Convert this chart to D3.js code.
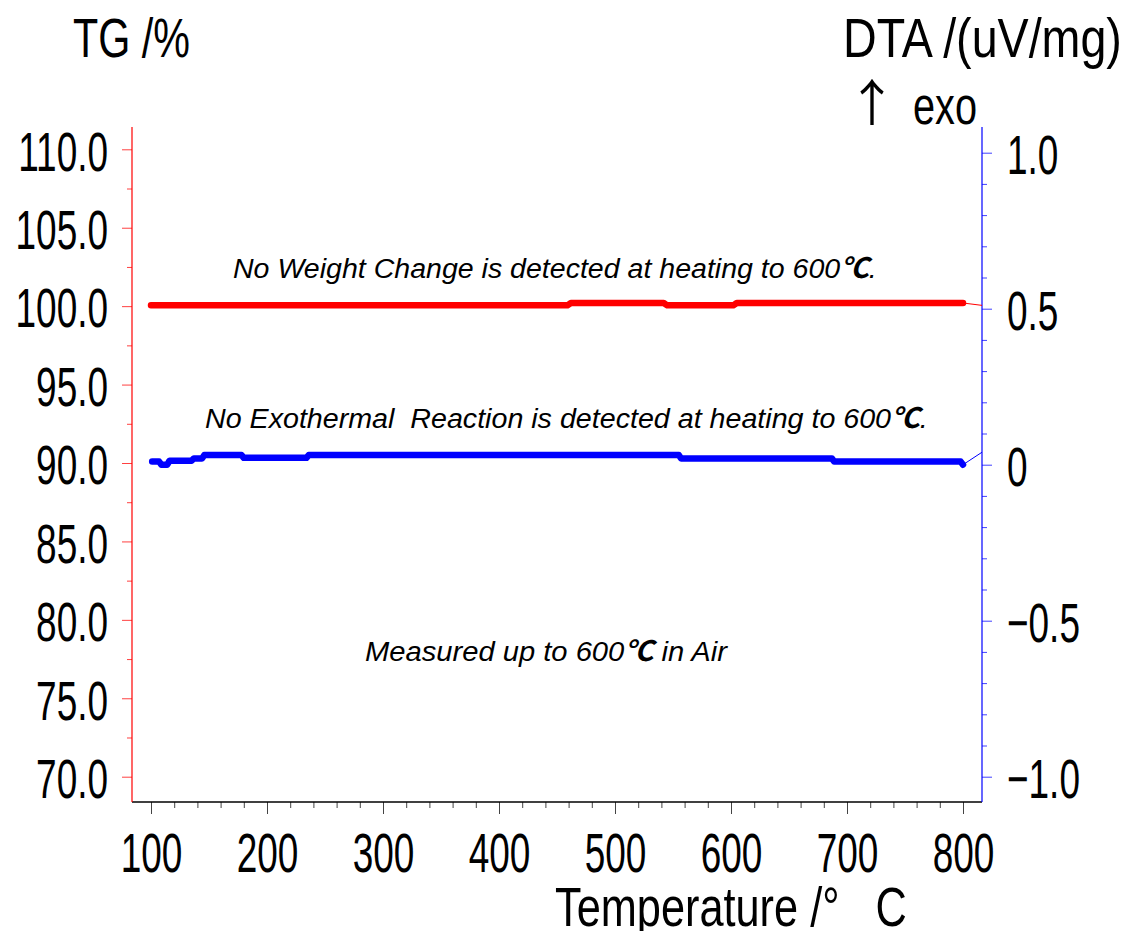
<!DOCTYPE html>
<html>
<head>
<meta charset="utf-8">
<script src="https://cdn.jsdelivr.net/npm/d3@7"></script>
<style>
  html, body { margin: 0; padding: 0; background: #fff; }
  svg { display: block; font-family: "Liberation Sans", Arial, sans-serif; }
</style>
</head>
<body>
<svg id="chart" width="1127" height="931"></svg>
<script>
// Temperature axis ticks (°C)
const tempMajorTicks = [100, 200, 300, 400, 500, 600, 700, 800];
const tempMinorTicks = [120, 140, 160, 180, 220, 240, 260, 280, 320, 340, 360, 380,
                        420, 440, 460, 480, 520, 540, 560, 580, 620, 640, 660, 680,
                        720, 740, 760, 780];
// TG axis ticks (%)
const tgMajorTicks = [70, 75, 80, 85, 90, 95, 100, 105, 110];
const tgMinorTicks = [72.5, 77.5, 82.5, 87.5, 92.5, 97.5, 102.5, 107.5];
// DTA axis ticks (uV/mg)
const dtaMajorTicks = [-1.0, -0.5, 0, 0.5, 1.0];
const dtaTickLabels = ["\u22121.0", "\u22120.5", "0", "0.5", "1.0"];
const dtaMinorTicks = [-0.9, -0.8, -0.7, -0.6, -0.4, -0.3, -0.2, -0.1,
                       0.1, 0.2, 0.3, 0.4, 0.6, 0.7, 0.8, 0.9];

// TG curve: temperature (°C) and weight (%)
const tgTemp  = [100, 459, 462, 542, 545, 602, 605, 800];
const tgValue = [100.05, 100.05, 100.2, 100.2, 100.05, 100.05, 100.2, 100.2];
const tgLeaderEnd = 100.05;

// DTA curve: temperature (°C) and signal (uV/mg)
const dtaTemp  = [101, 107, 109, 114, 116, 135, 137, 144, 146, 178, 180, 234, 236,
                  555, 557, 687, 689, 798, 800];
const dtaValue = [0.01, 0.01, 0.0, 0.0, 0.013, 0.013, 0.02, 0.02, 0.031, 0.031,
                  0.022, 0.022, 0.031, 0.031, 0.02, 0.02, 0.01, 0.01, 0.0];
const dtaLeaderEnd = 0.04;

// Annotations
const noteWeight = "No Weight Change is detected at heating to 600";
const noteExo = "No Exothermal  Reaction is detected at heating to 600";
const noteAir = ["Measured up to 600", " in Air"];

const svg = d3.select("#chart");

// Plot frame
const plotLeft = 132, plotRight = 982, plotTop = 127, plotBottom = 802;

const x = d3.scaleLinear().domain([100, 800]).range([151, 963]);
const yTG = d3.scaleLinear().domain([110, 70]).range([149.3, 776.7]);
const yDTA = d3.scaleLinear().domain([1, -1]).range([152.7, 776.7]);

const labelSX = 0.66;   // horizontal compression of tick label glyphs
const tickFont = 56;

// ----- bottom axis -----
const xAxisG = svg.append("g").attr("transform", `translate(0,${plotBottom})`);
xAxisG.append("g")
  .call(d3.axisBottom(x).tickValues(tempMinorTicks).tickSize(6).tickFormat(""))
  .call(g => g.select(".domain").remove())
  .call(g => g.selectAll("text").remove())
  .call(g => g.selectAll("line").attr("stroke", "#444"));
xAxisG.append("g")
  .call(d3.axisBottom(x).tickValues(tempMajorTicks).tickSize(12).tickPadding(0).tickFormat(d3.format("d")))
  .call(g => g.select(".domain").remove())
  .call(g => g.selectAll("line").attr("stroke", "#444"))
  .call(g => g.selectAll("text")
    .attr("fill", "#000")
    .style("font-size", tickFont + "px")
    .attr("y", 70).attr("dy", 0)
    .attr("transform", `scale(${labelSX},1)`));
svg.append("line")
  .attr("x1", plotLeft).attr("x2", plotRight)
  .attr("y1", plotBottom).attr("y2", plotBottom)
  .attr("stroke", "#000").attr("stroke-width", 1.5);

// ----- left (TG) axis -----
const tgAxisG = svg.append("g").attr("transform", `translate(${plotLeft},0)`);
tgAxisG.append("g")
  .call(d3.axisLeft(yTG).tickValues(tgMinorTicks).tickSize(5).tickFormat(""))
  .call(g => g.select(".domain").remove())
  .call(g => g.selectAll("text").remove())
  .call(g => g.selectAll("line").attr("stroke", "#ff4040"));
tgAxisG.append("g")
  .call(d3.axisLeft(yTG).tickValues(tgMajorTicks).tickSize(10).tickFormat(d3.format(".1f")))
  .call(g => g.select(".domain").remove())
  .call(g => g.selectAll("line").attr("stroke", "#ff4040"))
  .call(g => g.selectAll("text")
    .attr("fill", "#000")
    .style("font-size", tickFont + "px")
    .attr("x", -24 / labelSX).attr("dy", "0.37em")
    .attr("transform", `scale(${labelSX},1)`));
svg.append("line")
  .attr("x1", plotLeft).attr("x2", plotLeft)
  .attr("y1", plotTop).attr("y2", plotBottom)
  .attr("stroke", "#ff0000").attr("stroke-width", 1.2);

// ----- right (DTA) axis -----
const dtaAxisG = svg.append("g").attr("transform", `translate(${plotRight},0)`);
dtaAxisG.append("g")
  .call(d3.axisRight(yDTA).tickValues(dtaMinorTicks).tickSize(5).tickFormat(""))
  .call(g => g.select(".domain").remove())
  .call(g => g.selectAll("text").remove())
  .call(g => g.selectAll("line").attr("stroke", "#4040ff"));
dtaAxisG.append("g")
  .call(d3.axisRight(yDTA).tickValues(dtaMajorTicks).tickSize(10)
    .tickFormat((d, i) => dtaTickLabels[i]))
  .call(g => g.select(".domain").remove())
  .call(g => g.selectAll("line").attr("stroke", "#4040ff"))
  .call(g => g.selectAll("text")
    .attr("fill", "#000")
    .style("font-size", tickFont + "px")
    .attr("x", 25 / labelSX).attr("dy", "0.37em")
    .attr("transform", `scale(${labelSX},1)`));
svg.append("line")
  .attr("x1", plotRight).attr("x2", plotRight)
  .attr("y1", plotTop).attr("y2", plotBottom)
  .attr("stroke", "#0000ff").attr("stroke-width", 1.2);

// ----- curves -----
const tgData = tgTemp.map((t, i) => [t, tgValue[i]]);
const dtaData = dtaTemp.map((t, i) => [t, dtaValue[i]]);

const tgLine = d3.line().x(d => x(d[0])).y(d => yTG(d[1]));
const dtaLine = d3.line().x(d => x(d[0])).y(d => yDTA(d[1]));

// thin leaders from curve ends to the right axis
const tgLast = tgData[tgData.length - 1];
svg.append("line")
  .attr("x1", x(tgLast[0])).attr("y1", yTG(tgLast[1]))
  .attr("x2", plotRight).attr("y2", yTG(tgLeaderEnd))
  .attr("stroke", "#ff0000").attr("stroke-width", 1);
const dtaLast = dtaData[dtaData.length - 1];
svg.append("line")
  .attr("x1", x(dtaLast[0])).attr("y1", yDTA(dtaLast[1]))
  .attr("x2", plotRight).attr("y2", yDTA(dtaLeaderEnd))
  .attr("stroke", "#0000ff").attr("stroke-width", 1);

svg.append("path").datum(tgData)
  .attr("d", tgLine)
  .attr("fill", "none").attr("stroke", "#ff0000")
  .attr("stroke-width", 6.5).attr("stroke-linejoin", "round").attr("stroke-linecap", "round");
svg.append("path").datum(dtaData)
  .attr("d", dtaLine)
  .attr("fill", "none").attr("stroke", "#0000ff")
  .attr("stroke-width", 6.5).attr("stroke-linejoin", "round").attr("stroke-linecap", "round");

// ----- text helpers: squeeze a text horizontally to a given width -----
function squeeze(t, x0, y0, width) {
  const w = t.node().getComputedTextLength();
  t.attr("transform", `translate(${x0},${y0}) scale(${width / w},1)`);
  return t;
}
function fitText(str, x0, y0, size, width) {
  const t = svg.append("text")
    .style("font-size", size + "px")
    .style("white-space", "pre")
    .attr("fill", "#000")
    .text(str);
  return squeeze(t, x0, y0, width);
}
fitText("TG /%", 73, 57, 55, 117);
fitText("DTA /(uV/mg)", 843, 57, 55, 279);
fitText("exo", 913, 124, 52, 64);
svg.append("text")
  .attr("x", 872).attr("y", 121).attr("text-anchor", "middle")
  .style("font-family", "'Noto Sans CJK JP', sans-serif")
  .style("font-size", "50px").attr("fill", "#000")
  .text("\u2191");
fitText("Temperature /\u00B0   C", 555, 926, 56, 352);

// ----- annotations -----
function note(parts, x0, y0, width) {
  const t = svg.append("text")
    .style("font-size", "28px").style("font-style", "italic")
    .style("white-space", "pre")
    .attr("fill", "#000");
  parts.forEach(p => {
    const ts = t.append("tspan").text(p.s);
    if (p.deg) {
      ts.style("font-family", "'Noto Sans CJK JP', sans-serif")
        .style("font-weight", "bold");
    }
  });
  return squeeze(t, x0, y0, width);
}
note([{ s: noteWeight }, { s: "\u2103", deg: true }, { s: "." }], 233, 278, 644);
note([{ s: noteExo }, { s: "\u2103", deg: true }, { s: "." }], 205, 428, 723);
note([{ s: noteAir[0] }, { s: "\u2103", deg: true }, { s: noteAir[1] }], 365, 661, 362);
</script>
</body>
</html>
